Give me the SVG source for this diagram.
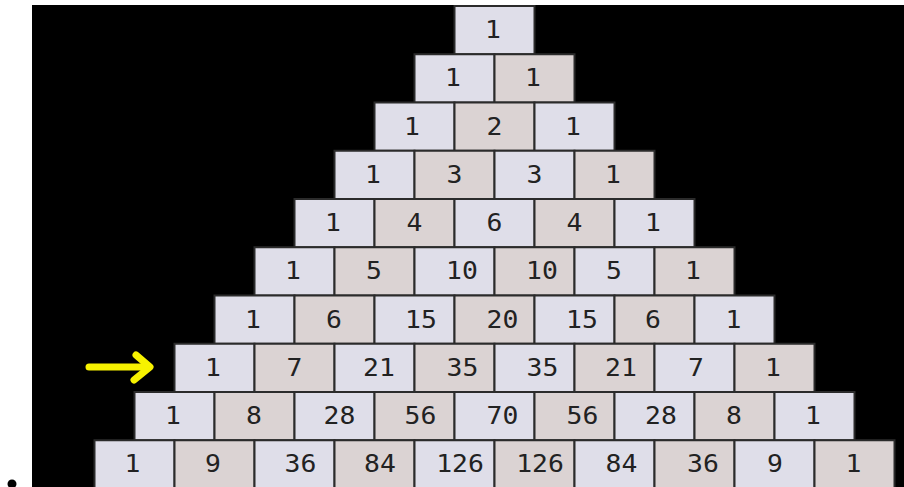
<svg xmlns="http://www.w3.org/2000/svg" width="904" height="487" viewBox="0 0 904 487">
<style>
rect.l{fill:#dfdee9;stroke:#2b2b2b;stroke-width:2}
rect.d{fill:#dbd3d3;stroke:#2b2b2b;stroke-width:2}
text{font-family:"DejaVu Sans Mono","Liberation Mono",monospace;font-size:24px;fill:#222;text-anchor:middle;dominant-baseline:central}
</style>
<rect x="0" y="0" width="904" height="487" fill="#ffffff"/>
<rect x="32" y="5" width="872" height="482" fill="#000000"/>
<g id="r0c0"><rect class="l" x="454.5" y="6" width="80" height="48.25"/><text transform="translate(493,30) scale(1.1,1)">1</text></g>
<g id="r1c0"><rect class="l" x="414.5" y="54.25" width="80" height="48.25"/><text transform="translate(453,78.4) scale(1.1,1)">1</text></g>
<g id="r1c1"><rect class="d" x="494.5" y="54.25" width="80" height="48.25"/><text transform="translate(533,78.4) scale(1.1,1)">1</text></g>
<g id="r2c0"><rect class="l" x="374.5" y="102.5" width="80" height="48.25"/><text transform="translate(412,126.6) scale(1.1,1)">1</text></g>
<g id="r2c1"><rect class="d" x="454.5" y="102.5" width="80" height="48.25"/><text transform="translate(494.5,126.6) scale(1.1,1)">2</text></g>
<g id="r2c2"><rect class="l" x="534.5" y="102.5" width="80" height="48.25"/><text transform="translate(573,126.6) scale(1.1,1)">1</text></g>
<g id="r3c0"><rect class="l" x="334.5" y="150.75" width="80" height="48.25"/><text transform="translate(373,174.9) scale(1.1,1)">1</text></g>
<g id="r3c1"><rect class="d" x="414.5" y="150.75" width="80" height="48.25"/><text transform="translate(454.5,174.9) scale(1.1,1)">3</text></g>
<g id="r3c2"><rect class="l" x="494.5" y="150.75" width="80" height="48.25"/><text transform="translate(534.5,174.9) scale(1.1,1)">3</text></g>
<g id="r3c3"><rect class="d" x="574.5" y="150.75" width="80" height="48.25"/><text transform="translate(613,174.9) scale(1.1,1)">1</text></g>
<g id="r4c0"><rect class="l" x="294.5" y="199" width="80" height="48.25"/><text transform="translate(333,223.1) scale(1.1,1)">1</text></g>
<g id="r4c1"><rect class="d" x="374.5" y="199" width="80" height="48.25"/><text transform="translate(414.5,223.1) scale(1.1,1)">4</text></g>
<g id="r4c2"><rect class="l" x="454.5" y="199" width="80" height="48.25"/><text transform="translate(494.5,223.1) scale(1.1,1)">6</text></g>
<g id="r4c3"><rect class="d" x="534.5" y="199" width="80" height="48.25"/><text transform="translate(574.5,223.1) scale(1.1,1)">4</text></g>
<g id="r4c4"><rect class="l" x="614.5" y="199" width="80" height="48.25"/><text transform="translate(653,223.1) scale(1.1,1)">1</text></g>
<g id="r5c0"><rect class="l" x="254.5" y="247.25" width="80" height="48.25"/><text transform="translate(293,271.4) scale(1.1,1)">1</text></g>
<g id="r5c1"><rect class="d" x="334.5" y="247.25" width="80" height="48.25"/><text transform="translate(374,271.4) scale(1.1,1)">5</text></g>
<g id="r5c2"><rect class="l" x="414.5" y="247.25" width="80" height="48.25"/><text transform="translate(462,271.4) scale(1.1,1)">10</text></g>
<g id="r5c3"><rect class="d" x="494.5" y="247.25" width="80" height="48.25"/><text transform="translate(542,271.4) scale(1.1,1)">10</text></g>
<g id="r5c4"><rect class="l" x="574.5" y="247.25" width="80" height="48.25"/><text transform="translate(614,271.4) scale(1.1,1)">5</text></g>
<g id="r5c5"><rect class="d" x="654.5" y="247.25" width="80" height="48.25"/><text transform="translate(693,271.4) scale(1.1,1)">1</text></g>
<g id="r6c0"><rect class="l" x="214.5" y="295.5" width="80" height="48.25"/><text transform="translate(253,319.6) scale(1.1,1)">1</text></g>
<g id="r6c1"><rect class="d" x="294.5" y="295.5" width="80" height="48.25"/><text transform="translate(334,319.6) scale(1.1,1)">6</text></g>
<g id="r6c2"><rect class="l" x="374.5" y="295.5" width="80" height="48.25"/><text transform="translate(421,319.6) scale(1.1,1)">15</text></g>
<g id="r6c3"><rect class="d" x="454.5" y="295.5" width="80" height="48.25"/><text transform="translate(502.5,319.6) scale(1.1,1)">20</text></g>
<g id="r6c4"><rect class="l" x="534.5" y="295.5" width="80" height="48.25"/><text transform="translate(582,319.6) scale(1.1,1)">15</text></g>
<g id="r6c5"><rect class="d" x="614.5" y="295.5" width="80" height="48.25"/><text transform="translate(653,319.6) scale(1.1,1)">6</text></g>
<g id="r6c6"><rect class="l" x="694.5" y="295.5" width="80" height="48.25"/><text transform="translate(733.5,319.6) scale(1.1,1)">1</text></g>
<g id="r7c0"><rect class="l" x="174.5" y="343.75" width="80" height="48.25"/><text transform="translate(213,367.9) scale(1.1,1)">1</text></g>
<g id="r7c1"><rect class="d" x="254.5" y="343.75" width="80" height="48.25"/><text transform="translate(294.5,367.9) scale(1.1,1)">7</text></g>
<g id="r7c2"><rect class="l" x="334.5" y="343.75" width="80" height="48.25"/><text transform="translate(379,367.9) scale(1.1,1)">21</text></g>
<g id="r7c3"><rect class="d" x="414.5" y="343.75" width="80" height="48.25"/><text transform="translate(462.5,367.9) scale(1.1,1)">35</text></g>
<g id="r7c4"><rect class="l" x="494.5" y="343.75" width="80" height="48.25"/><text transform="translate(542.5,367.9) scale(1.1,1)">35</text></g>
<g id="r7c5"><rect class="d" x="574.5" y="343.75" width="80" height="48.25"/><text transform="translate(621,367.9) scale(1.1,1)">21</text></g>
<g id="r7c6"><rect class="l" x="654.5" y="343.75" width="80" height="48.25"/><text transform="translate(696,367.9) scale(1.1,1)">7</text></g>
<g id="r7c7"><rect class="d" x="734.5" y="343.75" width="80" height="48.25"/><text transform="translate(773,367.9) scale(1.1,1)">1</text></g>
<g id="r8c0"><rect class="l" x="134.5" y="392" width="80" height="48.25"/><text transform="translate(173,416.1) scale(1.1,1)">1</text></g>
<g id="r8c1"><rect class="d" x="214.5" y="392" width="80" height="48.25"/><text transform="translate(254,416.1) scale(1.1,1)">8</text></g>
<g id="r8c2"><rect class="l" x="294.5" y="392" width="80" height="48.25"/><text transform="translate(339.5,416.1) scale(1.1,1)">28</text></g>
<g id="r8c3"><rect class="d" x="374.5" y="392" width="80" height="48.25"/><text transform="translate(420.5,416.1) scale(1.1,1)">56</text></g>
<g id="r8c4"><rect class="l" x="454.5" y="392" width="80" height="48.25"/><text transform="translate(502.5,416.1) scale(1.1,1)">70</text></g>
<g id="r8c5"><rect class="d" x="534.5" y="392" width="80" height="48.25"/><text transform="translate(582.5,416.1) scale(1.1,1)">56</text></g>
<g id="r8c6"><rect class="l" x="614.5" y="392" width="80" height="48.25"/><text transform="translate(661,416.1) scale(1.1,1)">28</text></g>
<g id="r8c7"><rect class="d" x="694.5" y="392" width="80" height="48.25"/><text transform="translate(734,416.1) scale(1.1,1)">8</text></g>
<g id="r8c8"><rect class="l" x="774.5" y="392" width="80" height="48.25"/><text transform="translate(813,416.1) scale(1.1,1)">1</text></g>
<g id="r9c0"><rect class="l" x="94.5" y="440.25" width="80" height="48.25"/><text transform="translate(132.5,464.4) scale(1.1,1)">1</text></g>
<g id="r9c1"><rect class="d" x="174.5" y="440.25" width="80" height="48.25"/><text transform="translate(213,464.4) scale(1.1,1)">9</text></g>
<g id="r9c2"><rect class="l" x="254.5" y="440.25" width="80" height="48.25"/><text transform="translate(300.5,464.4) scale(1.1,1)">36</text></g>
<g id="r9c3"><rect class="d" x="334.5" y="440.25" width="80" height="48.25"/><text transform="translate(380,464.4) scale(1.1,1)">84</text></g>
<g id="r9c4"><rect class="l" x="414.5" y="440.25" width="80" height="48.25"/><text transform="translate(460,464.4) scale(1.1,1)">126</text></g>
<g id="r9c5"><rect class="d" x="494.5" y="440.25" width="80" height="48.25"/><text transform="translate(540,464.4) scale(1.1,1)">126</text></g>
<g id="r9c6"><rect class="l" x="574.5" y="440.25" width="80" height="48.25"/><text transform="translate(621.5,464.4) scale(1.1,1)">84</text></g>
<g id="r9c7"><rect class="d" x="654.5" y="440.25" width="80" height="48.25"/><text transform="translate(703,464.4) scale(1.1,1)">36</text></g>
<g id="r9c8"><rect class="l" x="734.5" y="440.25" width="80" height="48.25"/><text transform="translate(775,464.4) scale(1.1,1)">9</text></g>
<g id="r9c9"><rect class="d" x="814.5" y="440.25" width="80" height="48.25"/><text transform="translate(853.5,464.4) scale(1.1,1)">1</text></g>
<g id="connectors">
<g id="arrow" fill="none" stroke="#f7f200" stroke-width="7" stroke-linecap="round" stroke-linejoin="round">
<line x1="89" y1="367" x2="147" y2="367"/>
<polyline points="136,355 150,367 134,380"/>
</g>
</g>
<circle cx="12" cy="484" r="4.5" fill="#000000"/>
</svg>
